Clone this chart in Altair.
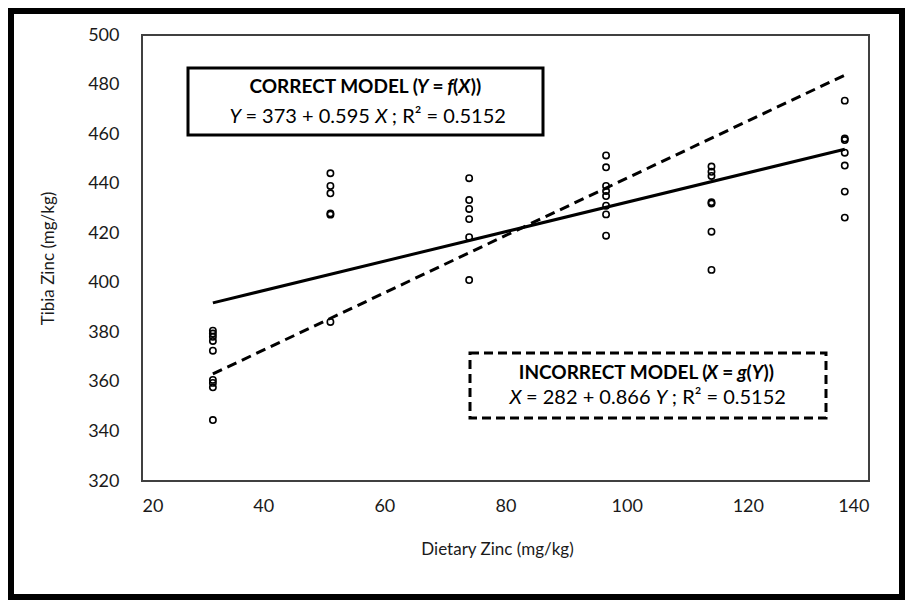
import altair as alt
import pandas as pd

# ---------------- data ----------------
dietary_levels = [31.7, 51.1, 74.0, 96.6, 114.0, 136.0]
tibia_g1 = [380.7, 379.5, 378.2, 376.5, 372.6, 360.8, 359.6, 357.8, 344.6]
tibia_g2 = [444.2, 439.1, 436.1, 428.0, 427.5, 384.2]
tibia_g3 = [442.2, 433.4, 429.8, 425.7, 418.4, 401.1]
tibia_g4 = [451.4, 446.6, 439.1, 437.0, 435.0, 431.1, 427.6, 419.0]
tibia_g5 = [446.9, 444.8, 443.1, 432.5, 432.0, 420.6, 405.2]
tibia_g6 = [473.5, 458.2, 457.6, 452.5, 447.3, 436.8, 426.3]

line_x = [31.7, 136.0]
correct_y = [391.9, 453.9]
incorrect_y = [363.2, 483.8]

x_ticks = [20, 40, 60, 80, 100, 120, 140]
y_ticks = [320, 340, 360, 380, 400, 420, 440, 460, 480, 500]

groups = [tibia_g1, tibia_g2, tibia_g3, tibia_g4, tibia_g5, tibia_g6]
rows = []
for lvl, vals in zip(dietary_levels, groups):
    for v in vals:
        rows.append({"x": lvl, "y": v})
pts = pd.DataFrame(rows)
lines = pd.DataFrame({"x": line_x + line_x,
                      "y": correct_y + incorrect_y,
                      "model": ["correct"] * 2 + ["incorrect"] * 2})

FONT = "Lato"
PLOT_W, PLOT_H = 727, 446
PAD_L, PAD_T, PAD_R, PAD_B = 134, 27, 36, 119
NB = "\u00a0"

xs = alt.Scale(domain=[20, 140], nice=False, zero=False)
ys = alt.Scale(domain=[320, 500], nice=False, zero=False)

base_x = alt.X("x:Q", scale=xs, title="Dietary Zinc (mg/kg)",
               axis=alt.Axis(values=x_ticks, labelPadding=16, titleX=355, titleY=68,
                             titleBaseline="middle"))
base_y = alt.Y("y:Q", scale=ys, title="Tibia Zinc (mg/kg)",
               axis=alt.Axis(values=y_ticks, labelPadding=23, titleX=-94, titleY=223,
                             titleBaseline="middle", titleAlign="center"))

points = alt.Chart(pts).mark_point(shape="circle", filled=False, color="black",
                                   strokeWidth=1.6, size=40, opacity=1).encode(x=base_x, y=base_y)

solid = alt.Chart(lines[lines.model == "correct"]).mark_line(color="black", strokeWidth=3).encode(
    x=alt.X("x:Q", scale=xs), y=alt.Y("y:Q", scale=ys))
dashed = alt.Chart(lines[lines.model == "incorrect"]).mark_line(
    color="black", strokeWidth=3, strokeDash=[10, 6]).encode(
    x=alt.X("x:Q", scale=xs), y=alt.Y("y:Q", scale=ys))

one = alt.Data(values=[{"a": 1}])

def box(x1, x2, y1, y2, dash=None, width=3):
    kw = dict(fill="white", stroke="black", strokeWidth=width)
    if dash:
        kw["strokeDash"] = dash
    return alt.Chart(one).mark_rect(**kw).encode(
        x=alt.value(x1), x2=alt.value(x2), y=alt.value(y1), y2=alt.value(y2))

# approximate Lato advance widths (em)
REG = {"0": .58, "1": .58, "2": .58, "3": .58, "4": .58, "5": .58, "6": .58, "7": .58,
       "8": .58, "9": .58, NB: .2, "=": .58, "+": .58, ".": .22, ";": .23, "R": .63,
       "²": .38, "X": .63, "Y": .6}
BOLD = {"C": .68, "O": .76, "R": .64, "E": .56, "T": .59, "M": .87, "D": .74, "L": .5,
        "I": .3, "N": .74, "X": .66, "Y": .62, NB: .2, "(": .33, ")": .31, "=": .58,
        "f": .35, "g": .54}

def seg_width(s, bold, size):
    tab = BOLD if bold else REG
    return sum(tab.get(c, .55) for c in s) * size

def rich_line(segs, cx, cy, bold, size):
    segs = [(s.replace(" ", NB), st, dx) for s, st, dx in segs]
    total = sum(seg_width(s, bold, size) + dx for s, _, dx in segs)
    x = cx - total / 2
    layers = []
    for s, style, dx in segs:
        x += dx
        layers.append(alt.Chart(one).mark_text(
            text=s, font=FONT, fontSize=size, fontWeight="bold" if bold else "normal",
            fontStyle=style, align="left", baseline="middle", color="black").encode(
            x=alt.value(x), y=alt.value(cy)))
        x += seg_width(s, bold, size)
    return layers

box1 = box(46, 401, 33, 100)
box2 = box(328, 684, 318, 383, dash=[9, 5])
N, I = "normal", "italic"
txt = []
txt += rich_line([("CORRECT MODEL (", N, 0), ("Y ", I, 2), ("= ", N, 0),
                  ("f", I, 0), ("(", N, -1), ("X", I, -1), ("))", N, 0)],
                 224, 52, True, 19)
txt += rich_line([("Y ", I, 0), ("= 373 + 0.595 ", N, 0), ("X ", I, 5),
                  ("; R² = 0.5152", N, 0)], 224, 82, False, 20)
txt += rich_line([("INCORRECT MODEL (", N, 0), ("X ", I, 2), ("= ", N, 0),
                  ("g", I, 0), ("(", N, -1), ("Y", I, -1), ("))", N, 0)],
                 505, 338, True, 19)
txt += rich_line([("X ", I, 0), ("= 282 + 0.866 ", N, 0), ("Y ", I, 5),
                  ("; R² = 0.5152", N, 0)], 504, 363, False, 20)

frame = alt.Chart(one).mark_rect(fill=None, fillOpacity=0, stroke="black", strokeWidth=6).encode(
    x=alt.value(-131), x2=alt.value(PLOT_W + PAD_R - 3),
    y=alt.value(-24), y2=alt.value(PLOT_H + PAD_B - 3))

chart = alt.layer(points, solid, dashed, box1, box2, *txt, frame).properties(
    width=PLOT_W, height=PLOT_H,
    autosize=alt.AutoSizeParams(type="none"),
    padding={"left": PAD_L, "top": PAD_T, "right": PAD_R, "bottom": PAD_B},
    background="white",
).configure_view(
    stroke="#404040", strokeWidth=2
).configure_axis(
    grid=False, domain=False, ticks=False, tickSize=0,
    labelFont=FONT, labelFontSize=18, labelColor="#1a1a1a",
    titleFont=FONT, titleFontSize=17, titleFontWeight="normal", titleColor="#1a1a1a",
)

chart.save("out.html", embed_options={"renderer": "svg", "actions": False})
